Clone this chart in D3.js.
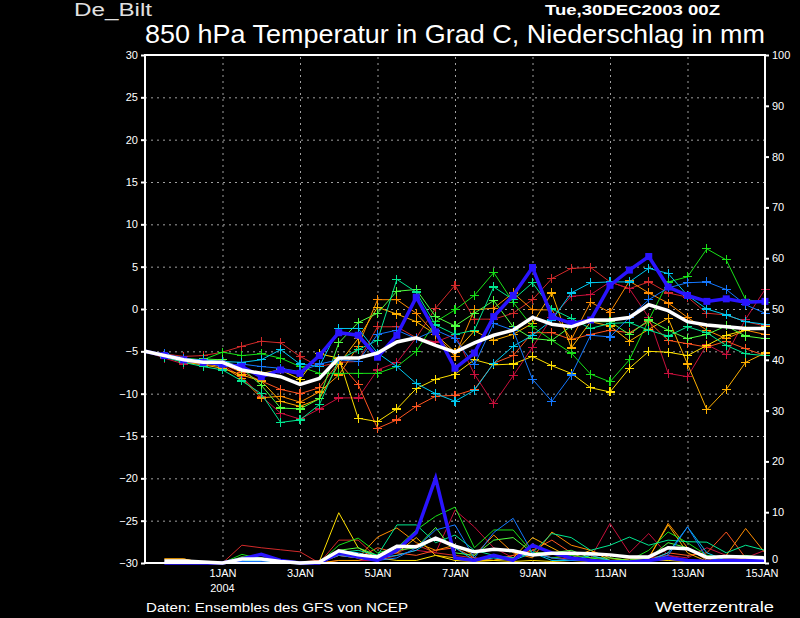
<!DOCTYPE html>
<html>
<head>
<meta charset="utf-8">
<script src="https://cdn.jsdelivr.net/npm/d3@7"></script>
<style>
    body { margin: 0; background: #000; }
    svg { display: block; background: #000; font-family: "Liberation Sans", "DejaVu Sans", sans-serif; }
    .grid line { stroke: #a0a0a0; stroke-dasharray: 2, 4; }
    .grid .domain { display: none; }
    .axis .domain { display: none; }
    .axis line { stroke: #fff; stroke-width: 2; }
    .axis text { fill: #fff; font-size: 11px; }
</style>
</head>
<body>
<svg width="800" height="618"></svg>
<script>
// lead time in hours from Tue 30DEC2003 00Z
const leadHours = [0, 12, 24, 36, 48, 60, 72, 84, 96, 108, 120, 132, 144, 156, 168, 180, 192,
    204, 216, 228, 240, 252, 264, 276, 288, 300, 312, 324, 336, 348, 360, 372, 384];

// x-axis labels (every second day)
const dayTickHours = [48, 96, 144, 192, 240, 288, 336, 384];
const dayTickLabels = ["1JAN", "3JAN", "5JAN", "7JAN", "9JAN", "11JAN", "13JAN", "15JAN"];

const tempTicks = [-30, -25, -20, -15, -10, -5, 0, 5, 10, 15, 20, 25, 30];
const precTicks = [0, 10, 20, 30, 40, 50, 60, 70, 80, 90, 100];

// 850 hPa temperature, ensemble members (deg C)
const tempRed = [-5, -5.3, -5.6, -5.5, -5.1, -4.4, -3.8, -4.0, -5.6, -6.8, -6.3, -6.2, -2.1, -2.1, -3.4, 0.1, 2.8, -1.2, -1.2, -0.5, 1.1, 3.6, 4.8, 4.9, 3.2, 2.4, 3.2, 1.9, 1.4, -0.5, -0.7, -1.5, -2.0];
const tempCrimson = [-5, -5.8, -6.5, -6.3, -6.6, -8.0, -10.3, -12.3, -13.0, -11.8, -10.5, -10.5, -7.2, -6.3, -3.4, -3.9, -3.0, -7.7, -11.2, -7.9, -4.5, -1.0, 1.5, 1.7, 3.2, 2.4, -1.0, -7.6, -8.0, -4.2, -5.4, -1.2, 2.3];
const tempOrangeRed = [-5, -5.5, -6.0, -6.2, -6.5, -7.5, -8.5, -9.5, -10.0, -9.3, -6.3, -8.9, -14.1, -13.1, -11.5, -10.3, -10.2, -9.5, -6.4, -5.5, -2.8, -2.8, -3.6, -3.0, -2.5, -2.8, -1.5, -3.7, -4.1, -4.5, -3.8, -4.7, -5.5];
const tempOrange = [-5, -5.5, -6.2, -6.5, -6.8, -8.2, -10.5, -10.3, -11.0, -9.8, -7.8, -4.4, 1.1, 1.1, -0.5, -3.0, -5.6, -0.1, 0.1, 1.9, -0.1, -0.1, -3.6, 0.8, -0.4, 3.3, 1.9, 0.7, -1.0, -2.5, -3.5, -2.5, -3.0];
const tempAmber = [-5, -5.6, -6.3, -6.6, -7.0, -7.8, -8.5, -10.9, -11.5, -10.6, -6.5, -3.5, 0.2, -0.6, -1.5, -3.0, -5.1, -2.6, -3.7, -3.0, -1.7, 1.9, -4.6, -1.5, -2.0, -3.8, -2.4, -1.1, -6.5, -11.9, -9.5, -6.3, -5.2];
const tempYellow = [-5, -5.5, -6.0, -6.3, -6.5, -7.2, -7.6, -7.2, -8.3, -5.3, -5.8, -12.9, -13.3, -11.8, -9.4, -8.3, -7.7, -6.0, -6.6, -6.5, -5.6, -6.7, -7.6, -9.3, -9.8, -7.0, -5.0, -5.1, -5.5, -4.3, -3.1, -2.5, -2.1];
const tempGreen = [-5, -5.4, -5.8, -6.0, -5.1, -5.5, -5.3, -5.8, -6.8, -7.6, -7.6, -7.6, -7.6, -6.8, -5.0, -1.5, -0.1, 1.6, 4.3, 0.8, -2.1, -3.7, -5.2, -7.7, -8.6, -6.0, -1.3, 3.2, 3.8, 7.1, 5.8, 1.1, 0.8];
const tempLime = [-5, -5.6, -6.2, -5.9, -6.0, -7.0, -9.0, -11.7, -11.8, -10.6, -4.0, -1.6, -0.5, 2.1, 2.3, -0.9, -2.0, -0.5, 1.0, -2.1, -3.5, -3.7, -2.0, -1.5, -1.5, -3.0, -1.3, -2.5, -3.5, -3.0, -2.0, -3.2, -3.5];
const tempTeal = [-5, -5.7, -6.3, -6.8, -7.2, -8.5, -10.0, -13.4, -13.1, -11.3, -6.0, -4.8, -3.7, 3.5, 2.0, -1.9, -3.0, -2.5, 2.6, 1.1, 3.1, 0.0, -1.1, -2.3, -1.7, -1.6, -2.5, -3.2, -2.1, -2.8, -4.3, -5.3, -5.5];
const tempCyan = [-5, -5.4, -5.9, -6.0, -6.2, -6.3, -6.0, -4.8, -6.5, -6.8, -2.3, -2.3, -5.2, -6.8, -8.8, -10.0, -10.9, -9.6, -6.4, -4.4, -3.1, -1.3, 1.9, 3.1, 3.2, 3.2, 4.8, 4.2, 1.6, 0.0, -0.7, -1.5, -1.8];
const tempAzure = [-5, -5.3, -5.8, -6.2, -6.8, -6.5, -6.8, -7.0, -7.4, -6.5, -6.0, -6.2, -3.0, -2.5, -3.5, -2.5, -3.5, -6.6, -1.7, -2.5, -8.3, -10.9, -7.8, -3.1, -3.3, -1.0, 1.1, 2.5, 3.1, 3.2, 2.3, 0.5, -0.5];
// operational run and ensemble mean
const tempOper = [-5, -5.5, -6.0, -6.3, -6.5, -6.8, -8.0, -7.2, -7.6, -5.5, -2.8, -3.1, -5.7, -3.1, 1.4, -2.7, -7.0, -5.2, -0.9, 1.6, 4.9, -0.9, -1.7, -1.3, 2.8, 4.6, 6.2, 2.6, 1.6, 0.9, 1.2, 0.8, 0.9];
const tempMean = [-5, -5.5, -6.0, -6.3, -6.3, -7.2, -7.6, -8.0, -8.9, -8.2, -5.8, -5.8, -5.2, -3.9, -3.4, -4.3, -5.1, -4.0, -3.1, -2.5, -1.0, -1.8, -2.1, -1.3, -1.3, -1.0, 0.5, -0.2, -1.5, -1.9, -2.1, -2.3, -2.3];

// 12-hourly precipitation (mm)
const precRed = [0, 0, 0, 0, 0, 3.5, 3.0, 2.6, 2.2, 0, 4.5, 4.5, 1.0, 2.0, 3.6, 2.0, 1.5, 1.0, 0.5, 1.5, 2.5, 1.0, 0.8, 0.5, 0.5, 0.5, 1.0, 1.5, 0.5, 0.5, 1.0, 1.0, 0.5];
const precCrimson = [0, 0, 0, 0, 0, 0.5, 0.3, 0.3, 0, 0, 0.5, 0.5, 0.5, 1.5, 2.5, 2.0, 10.4, 7.1, 3.0, 1.0, 2.0, 1.0, 1.5, 1.0, 7.8, 2.0, 5.8, 1.5, 1.0, 3.0, 1.5, 1.0, 2.5];
const precOrangeRed = [0, 0, 0, 0, 0, 0, 0.5, 0.3, 0.2, 0.5, 1.5, 1.0, 3.0, 2.0, 1.5, 2.5, 3.0, 1.0, 0.5, 1.5, 2.5, 4.5, 2.0, 1.5, 0.5, 0.3, 0.5, 2.0, 1.5, 2.0, 6.1, 1.0, 0.5];
const precOrange = [0, 0.8, 0.8, 0, 0, 0, 0, 0, 0, 0, 1.5, 1.0, 5.1, 6.9, 4.0, 2.5, 3.5, 1.5, 5.5, 2.0, 1.0, 6.1, 3.5, 2.5, 1.0, 0.5, 1.0, 7.8, 3.0, 0.5, 1.5, 6.8, 2.0];
const precAmber = [0, 0.8, 0.8, 0, 0, 0, 0, 0.2, 0, 0, 0.5, 0.5, 1.5, 2.0, 5.0, 1.5, 1.0, 0.5, 0.5, 1.0, 5.0, 3.0, 1.0, 2.5, 0.5, 0.8, 1.0, 7.5, 2.0, 0.3, 0.5, 1.0, 0.5];
const precYellow = [0, 0, 0, 0, 0, 0, 0, 0, 0, 0.3, 9.9, 3.0, 1.0, 0.5, 0.5, 1.5, 0.5, 0.3, 0.5, 0.3, 0.5, 0.3, 0.5, 0.3, 0.5, 0.2, 0.5, 0.5, 0.3, 0.5, 0.3, 0.2, 0.5];
const precGreen = [0, 0, 0, 0, 0, 1.7, 0.8, 0.2, 0, 0, 3.5, 4.9, 2.0, 3.0, 6.5, 9.2, 11.0, 3.0, 6.5, 6.5, 2.0, 1.0, 1.5, 1.0, 0.5, 0.5, 2.5, 6.1, 4.0, 1.5, 1.0, 1.5, 1.0];
const precLime = [0, 0, 0, 0, 0, 1.2, 1.0, 0.3, 0, 0, 2.5, 3.0, 1.5, 2.5, 3.0, 7.0, 2.0, 1.5, 4.5, 5.0, 2.0, 2.0, 2.5, 1.0, 1.0, 0.5, 1.0, 4.0, 3.0, 1.0, 0.5, 0.5, 0.5];
const precTeal = [0, 0, 0, 0, 0, 0.5, 0.5, 0, 0, 0, 2.0, 2.5, 1.5, 7.5, 7.5, 4.0, 5.5, 2.5, 1.5, 1.0, 2.0, 5.8, 5.0, 2.5, 3.5, 5.1, 3.5, 4.5, 4.2, 4.1, 2.0, 3.5, 2.5];
const precCyan = [0, 0, 0, 0, 0, 0.3, 0.5, 0, 0, 0, 2.5, 2.0, 1.0, 1.5, 2.5, 5.0, 3.0, 0.5, 1.0, 0.5, 2.0, 0.5, 0.5, 1.5, 0.5, 0.3, 0.5, 2.0, 7.1, 2.0, 0.5, 0.3, 0.5];
const precAzure = [0, 0, 0, 0, 0, 0.3, 0.3, 0, 0, 0, 1.5, 1.0, 0.5, 1.0, 3.0, 6.5, 7.5, 1.0, 6.0, 8.8, 2.0, 1.0, 0.5, 0.5, 0.3, 0.3, 0.5, 1.5, 7.1, 1.0, 0.3, 0.5, 0.5];
const precOper = [0, 0, 0, 0, 0, 0.8, 1.7, 0.5, 0, 0, 2.0, 1.2, 0.5, 2.5, 6.0, 16.7, 1.0, 0.5, 1.5, 0.5, 3.5, 2.0, 1.0, 0.5, 0.2, 0.2, 0.5, 1.0, 0.5, 0.3, 0.5, 0.5, 0.5];
const precMean = [0, 0.4, 0.4, 0.2, 0, 0.8, 0.8, 0.3, 0, 0.2, 2.4, 1.6, 1.2, 3.3, 3.2, 4.9, 3.3, 2.2, 2.7, 2.4, 1.6, 1.9, 1.9, 1.8, 1.6, 1.2, 1.2, 3.0, 2.8, 1.1, 1.3, 1.2, 1.0];

const memberTemps = [tempRed, tempCrimson, tempOrangeRed, tempOrange, tempAmber, tempYellow, tempGreen, tempLime, tempTeal, tempCyan, tempAzure];
const memberPrecs = [precRed, precCrimson, precOrangeRed, precOrange, precAmber, precYellow, precGreen, precLime, precTeal, precCyan, precAzure];
const memberColors = ["#d22a2a", "#c8103c", "#ff5520", "#ff8c00", "#ffb000", "#ffe000", "#18e018", "#50ff40", "#00e890", "#00c8f0", "#1478ff"];

const svg = d3.select("svg");
const plotLeft = 145, plotRight = 765, plotTop = 55, plotBottom = 563;

// 1. scales
const x = d3.scaleLinear().domain([0, 384]).range([plotLeft, plotRight]);
const yT = d3.scaleLinear().domain([-30, 30]).range([plotBottom, plotTop]);
const yP = d3.scaleLinear().domain([0, 100]).range([plotBottom, plotTop]);

// 2. dotted grid
svg.append("g")
    .attr("class", "grid")
    .attr("transform", "translate(" + plotLeft + ",0)")
    .call(d3.axisLeft(yT).tickValues(tempTicks.slice(1, -1)).tickSize(-(plotRight - plotLeft)).tickFormat(""));
svg.append("g")
    .attr("class", "grid")
    .attr("transform", "translate(0," + plotBottom + ")")
    .call(d3.axisBottom(x).tickValues(dayTickHours.slice(0, -1)).tickSize(-(plotBottom - plotTop)).tickFormat(""));

// 3. lines
const tLine = d3.line().x((d, i) => x(leadHours[i])).y(d => yT(d));
const pLine = d3.line().x((d, i) => x(leadHours[i + 1])).y(d => yP(d));

const members = svg.append("g");
memberTemps.forEach((series, k) => {
    const g = members.append("g");
    g.append("path")
        .attr("d", tLine(series))
        .attr("fill", "none")
        .attr("stroke", memberColors[k])
        .attr("stroke-width", 1);
    g.selectAll("path.mark")
        .data(series.slice(1))
        .enter()
        .append("path")
        .attr("class", "mark")
        .attr("d", "M-4.5,0H4.5M0,-4.5V4.5")
        .attr("transform", (d, i) => "translate(" + x(leadHours[i + 1]) + "," + yT(d) + ")")
        .attr("stroke", memberColors[k])
        .attr("stroke-width", 1.2)
        .attr("shape-rendering", "crispEdges");
    g.append("path")
        .attr("d", pLine(memberPrecs[k].slice(1)))
        .attr("fill", "none")
        .attr("stroke", memberColors[k])
        .attr("stroke-width", 1);
});

// operational run
const oper = svg.append("g");
oper.append("path")
    .attr("d", tLine(tempOper))
    .attr("fill", "none")
    .attr("stroke", "#2a14ff")
    .attr("stroke-width", 3.5);
oper.selectAll("rect")
    .data(tempOper.slice(1))
    .enter()
    .append("rect")
    .attr("x", (d, i) => x(leadHours[i + 1]) - 3.5)
    .attr("y", d => yT(d) - 3.5)
    .attr("width", 7)
    .attr("height", 7)
    .attr("fill", "#2a14ff");
oper.append("path")
    .attr("d", pLine(precOper.slice(1)))
    .attr("fill", "none")
    .attr("stroke", "#2a14ff")
    .attr("stroke-width", 3.5);

// ensemble mean
svg.append("path")
    .attr("d", tLine(tempMean))
    .attr("fill", "none")
    .attr("stroke", "#fff")
    .attr("stroke-width", 3.5);
svg.append("path")
    .attr("d", pLine(precMean.slice(1)))
    .attr("fill", "none")
    .attr("stroke", "#fff")
    .attr("stroke-width", 3.5);

// 4. frame and axes
svg.append("rect")
    .attr("x", plotLeft).attr("y", plotTop)
    .attr("width", plotRight - plotLeft).attr("height", plotBottom - plotTop)
    .attr("fill", "none")
    .attr("stroke", "#fff")
    .attr("stroke-width", 2);

svg.append("g")
    .attr("class", "axis")
    .attr("transform", "translate(" + plotLeft + ",0)")
    .call(d3.axisLeft(yT).tickValues(tempTicks).tickSize(4).tickPadding(3));
const yRight = svg.append("g")
    .attr("class", "axis")
    .attr("transform", "translate(" + plotRight + ",0)")
    .call(d3.axisRight(yP).tickValues(precTicks).tickSize(4).tickPadding(3));
// lift the "0" label a little so it clears "15JAN"
yRight.selectAll(".tick text").filter(d => d === 0).attr("dy", "-0.05em");
const xAxis = svg.append("g")
    .attr("class", "axis")
    .attr("transform", "translate(0," + plotBottom + ")")
    .call(d3.axisBottom(x).tickValues(dayTickHours).tickSize(0).tickPadding(6)
        .tickFormat((d, i) => dayTickLabels[i]));
xAxis.selectAll(".tick text").filter(d => d === 384).attr("text-anchor", "end").attr("dx", "13");
xAxis.append("text")
    .attr("x", x(dayTickHours[0]))
    .attr("y", 29)
    .attr("text-anchor", "middle")
    .text("2004");

// 5. titles
svg.append("text")
    .attr("x", 74).attr("y", 16)
    .attr("fill", "#e0e0e0")
    .attr("font-size", 18)
    .attr("textLength", 78).attr("lengthAdjust", "spacingAndGlyphs")
    .text("De_Bilt");
svg.append("text")
    .attr("x", 545).attr("y", 15)
    .attr("fill", "#fff")
    .attr("font-size", 14)
    .attr("font-weight", "bold")
    .attr("textLength", 175).attr("lengthAdjust", "spacingAndGlyphs")
    .text("Tue,30DEC2003 00Z");
svg.append("text")
    .attr("x", 145).attr("y", 43)
    .attr("fill", "#fff")
    .attr("font-size", 25)
    .attr("textLength", 620).attr("lengthAdjust", "spacingAndGlyphs")
    .text("850 hPa Temperatur in Grad C, Niederschlag in mm");
svg.append("text")
    .attr("x", 146).attr("y", 612)
    .attr("fill", "#fff")
    .attr("font-size", 13)
    .attr("textLength", 262).attr("lengthAdjust", "spacingAndGlyphs")
    .text("Daten: Ensembles des GFS von NCEP");
svg.append("text")
    .attr("x", 655).attr("y", 612)
    .attr("fill", "#fff")
    .attr("font-size", 15)
    .attr("textLength", 119).attr("lengthAdjust", "spacingAndGlyphs")
    .text("Wetterzentrale");
</script>
</body>
</html>
